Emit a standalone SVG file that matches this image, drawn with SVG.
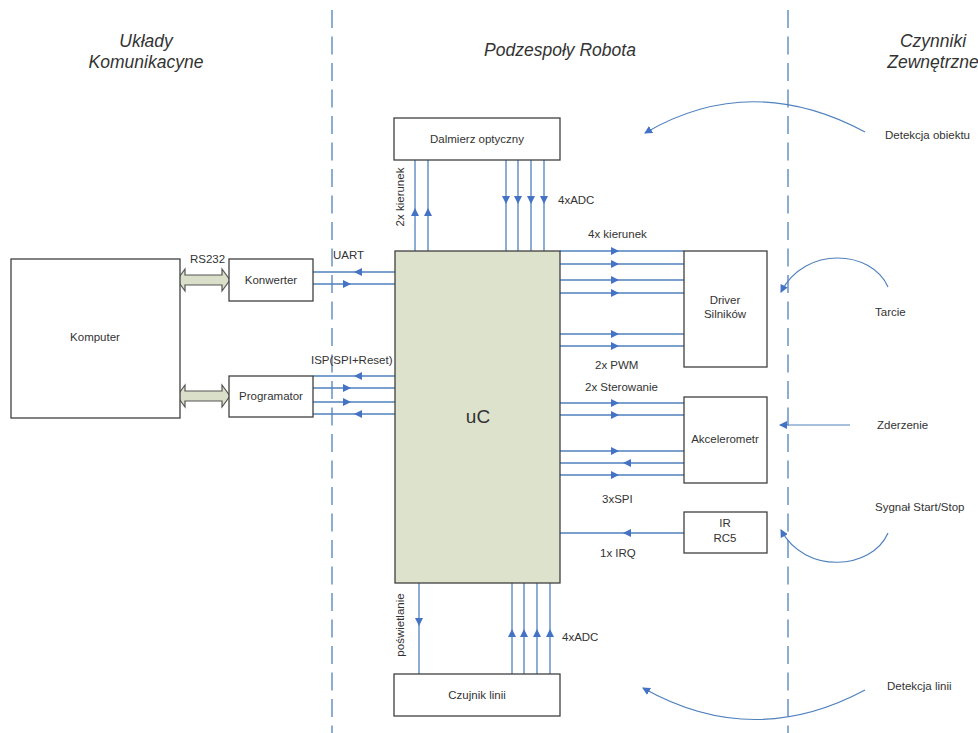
<svg xmlns="http://www.w3.org/2000/svg" width="978" height="733" viewBox="0 0 978 733">
<style>
.box{fill:#fff;stroke:#404040;stroke-width:1.3}
.uc{fill:#dde2cc;stroke:#404040;stroke-width:1.3}
.ln{fill:none;stroke:#4f81bd;stroke-width:1.3;marker-mid:url(#ah)}
.cv{fill:none;stroke:#4f81bd;stroke-width:1.2;marker-end:url(#ae)}
.dash{stroke:#4f81bd;stroke-width:1.3;stroke-dasharray:18 8.5}
.dbl{fill:#d9dfc9;stroke:#555;stroke-width:1.2}
text{font-family:"Liberation Sans",Arial,sans-serif;font-size:11.5px;fill:#333}
.c{text-anchor:middle}
.h{font-size:17.5px;font-style:italic;text-anchor:middle}
</style>
<defs>
<marker id="ah" markerUnits="userSpaceOnUse" markerWidth="9" markerHeight="9" refX="4" refY="4" orient="auto"><path d="M0,0 L8,4 L0,8 z" fill="#4472c4"/></marker>
<marker id="ae" markerUnits="userSpaceOnUse" markerWidth="9" markerHeight="9" refX="7" refY="4" orient="auto"><path d="M0,0 L8,4 L0,8 z" fill="#4472c4"/></marker>
</defs>

<g id="swimlanes">
<line class="dash" x1="332" y1="10" x2="332" y2="733"/>
<line class="dash" x1="788" y1="10" x2="788" y2="733"/>
<text class="h" x="146" y="47">Układy</text>
<text class="h" x="146" y="68">Komunikacyne</text>
<text class="h" x="560" y="56">Podzespoły Robota</text>
<text class="h" x="933" y="47">Czynniki</text>
<text class="h" x="933" y="68">Zewnętrzne</text>
</g>

<g id="connectors">
<!-- bus arrows -->
<path class="dbl" d="M177,280 L185,269 L185,275 L222,275 L222,269 L230,280 L222,291 L222,285 L185,285 L185,291 Z"/>
<path class="dbl" d="M177,396 L185,385 L185,391 L222,391 L222,385 L230,396 L222,407 L222,401 L185,401 L185,407 Z"/>
<!-- Dalmierz -->
<polyline class="ln" points="415,251 415,212 415,160"/>
<polyline class="ln" points="428,251 428,212 428,160"/>
<polyline class="ln" points="506,160 506,200 506,251"/>
<polyline class="ln" points="518,160 518,200 518,251"/>
<polyline class="ln" points="531,160 531,200 531,251"/>
<polyline class="ln" points="544,160 544,200 544,251"/>
<!-- Konwerter -->
<polyline class="ln" points="396,272 358,272 313,272"/>
<polyline class="ln" points="313,284 347,284 396,284"/>
<!-- Programator -->
<polyline class="ln" points="396,376 358,376 313,376"/>
<polyline class="ln" points="313,388 347,388 396,388"/>
<polyline class="ln" points="313,402 347,402 396,402"/>
<polyline class="ln" points="396,414 358,414 313,414"/>
<!-- Driver -->
<polyline class="ln" points="560,251 615,251 684,251"/>
<polyline class="ln" points="560,264 615,264 684,264"/>
<polyline class="ln" points="560,280 615,280 684,280"/>
<polyline class="ln" points="560,293 615,293 684,293"/>
<polyline class="ln" points="560,334 615,334 684,334"/>
<polyline class="ln" points="560,346 615,346 684,346"/>
<!-- Akcelerometr -->
<polyline class="ln" points="560,403 615,403 684,403"/>
<polyline class="ln" points="560,415 615,415 684,415"/>
<polyline class="ln" points="560,451 615,451 684,451"/>
<polyline class="ln" points="684,463 627,463 560,463"/>
<polyline class="ln" points="560,475 615,475 684,475"/>
<!-- IR -->
<polyline class="ln" points="684,533 627,533 560,533"/>
<!-- Czujnik -->
<polyline class="ln" points="419,583 419,622 419,674"/>
<polyline class="ln" points="512,674 512,633 512,583"/>
<polyline class="ln" points="524,674 524,633 524,583"/>
<polyline class="ln" points="537,674 537,633 537,583"/>
<polyline class="ln" points="550,674 550,633 550,583"/>
<!-- external -->
<path class="cv" d="M865,132 Q751,71 645,133"/>
<path class="cv" d="M888,287 C872,250 805,245 781,292"/>
<path class="cv" d="M850,425 L780,425"/>
<path class="cv" d="M888,533 C872,570 805,575 781,530"/>
<path class="cv" d="M865,690 Q753,750 643,688"/>
</g>

<g id="labels">
<text x="190" y="263">RS232</text>
<text x="333" y="259">UART</text>
<text x="311" y="364">ISP(SPI+Reset)</text>
<text class="c" transform="translate(404,197) rotate(-90)">2x kierunek</text>
<text x="558" y="204">4xADC</text>
<text x="588" y="238">4x kierunek</text>
<text x="595" y="369">2x PWM</text>
<text x="585" y="391">2x Sterowanie</text>
<text x="602" y="503">3xSPI</text>
<text x="600" y="557">1x IRQ</text>
<text class="c" transform="translate(404,625) rotate(-90)">poświetlanie</text>
<text x="562" y="641">4xADC</text>
<text x="885" y="139">Detekcja obiektu</text>
<text x="875" y="316">Tarcie</text>
<text x="877" y="429">Zderzenie</text>
<text x="875" y="511">Sygnał Start/Stop</text>
<text x="887" y="690">Detekcja linii</text>
</g>

<g id="komputer"><rect class="box" x="11" y="259" width="169" height="159"/><text class="c" x="95" y="341">Komputer</text></g>
<g id="konwerter"><rect class="box" x="229" y="259" width="84" height="42"/><text class="c" x="271" y="284">Konwerter</text></g>
<g id="programator"><rect class="box" x="229" y="376" width="84" height="41"/><text class="c" x="271" y="400">Programator</text></g>
<g id="dalmierz"><rect class="box" x="394" y="118" width="166" height="42"/><text class="c" x="477" y="143">Dalmierz optyczny</text></g>
<g id="uc"><rect class="uc" x="395" y="251" width="165" height="332"/><text class="c" x="478" y="423" style="font-size:19px">uC</text></g>
<g id="czujnik"><rect class="box" x="394" y="674" width="166" height="42"/><text class="c" x="477" y="699">Czujnik linii</text></g>
<g id="driver"><rect class="box" x="684" y="251" width="83" height="116"/><text class="c" x="725" y="304">Driver</text><text class="c" x="725" y="318">Silników</text></g>
<g id="akcelerometr"><rect class="box" x="684" y="397" width="83" height="86"/><text class="c" x="725" y="443">Akcelerometr</text></g>
<g id="ir"><rect class="box" x="684" y="512" width="83" height="41"/><text class="c" x="725" y="527">IR</text><text class="c" x="725" y="542">RC5</text></g>
</svg>
